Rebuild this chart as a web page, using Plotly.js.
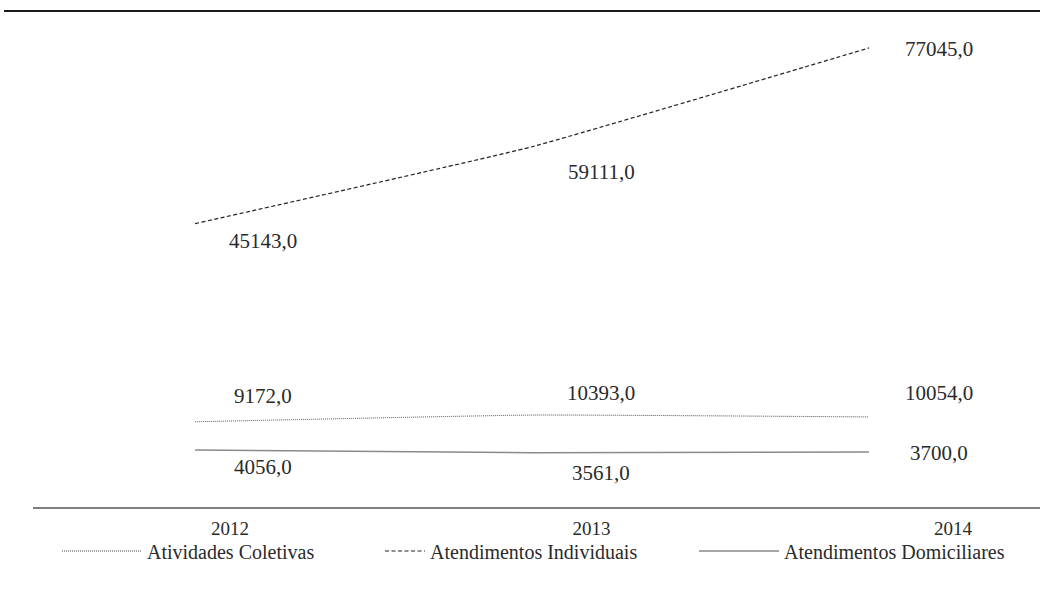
<!DOCTYPE html>
<html>
<head>
<meta charset="utf-8">
<script src="https://cdn.plot.ly/plotly-3.0.1.min.js"></script>
<style>
  html, body { margin: 0; padding: 0; background: #ffffff; }
  #chart { width: 1040px; height: 589px; }
</style>
</head>
<body>
<div id="chart"></div>
<script>
// ---- Data ----
const years = ['2012', '2013', '2014'];
const atividadesColetivas = [9172, 10393, 10054];
const atendimentosIndividuais = [45143, 59111, 77045];
const atendimentosDomiciliares = [4056, 3561, 3700];
const seriesNames = ['Atividades Coletivas', 'Atendimentos Individuais', 'Atendimentos Domiciliares'];

// ---- Styles ----
const FONT = 'Liberation Serif, Times New Roman, serif';
const TEXT = '#2a2a2a';
const W = 1040, H = 589;
const M = {l: 0, r: 0, t: 11, b: 81};
const plotH = H - M.t - M.b;

const seriesStyle = [
  {color: '#444444', width: 1, dash: '1px,1px', legend: 'legend', labelDy: [-26, -22, -24]},
  {color: '#222222', width: 1.2, dash: '4px,2.5px', legend: 'legend2', labelDy: [17, 25, 1]},
  {color: '#8a8a8a', width: 1.5, dash: 'solid', legend: 'legend3', labelDy: [17, 20, 1]}
];
const labelDx = [68, 69, 70];
const seriesValues = [atividadesColetivas, atendimentosIndividuais, atendimentosDomiciliares];

function fmt(v) { return v.toFixed(1).replace('.', ','); }

const traces = seriesValues.map((vals, i) => ({
  type: 'scatter',
  mode: 'lines',
  name: seriesNames[i],
  x: years,
  y: vals,
  xaxis: 'x',
  yaxis: 'y',
  legend: seriesStyle[i].legend,
  line: {color: seriesStyle[i].color, width: seriesStyle[i].width, dash: seriesStyle[i].dash, shape: 'spline', smoothing: 0.35},
  hoverinfo: 'skip'
}));
// hidden carrier for the tick-label axis
traces.push({type: 'scatter', mode: 'markers', x: years, y: years.map(() => null), xaxis: 'x2', yaxis: 'y', showlegend: false, hoverinfo: 'skip'});

const annotations = [];
seriesValues.forEach((vals, i) => {
  vals.forEach((v, j) => {
    annotations.push({
      xref: 'x', yref: 'y', x: j, y: v,   // category index j of `years`
      text: fmt(v), showarrow: false,
      xshift: labelDx[j], yshift: -seriesStyle[i].labelDy[j],
      font: {family: FONT, size: 21, color: TEXT},
      xanchor: 'center', yanchor: 'middle'
    });
  });
});

// line-axis mapping: first category at 195px, last at 869px
const linePx = [195, 869];
const lineScale = (linePx[1] - linePx[0]) / (years.length - 1);
const lineRange = [-linePx[0] / lineScale, (W - linePx[0]) / lineScale];
// tick-label axis mapping
const tickPx = [230, 953];
const tickScale = (tickPx[1] - tickPx[0]) / (years.length - 1);
const tickRange = [-tickPx[0] / tickScale, (W - tickPx[0]) / tickScale];

function legendCfg(px, itemwidth) {
  return {
    x: px / W, y: (508 - 551) / plotH, xanchor: 'left', yanchor: 'middle',
    orientation: 'h', itemwidth: itemwidth, bgcolor: 'rgba(0,0,0,0)', borderwidth: 0,
    font: {family: FONT, size: 20, color: TEXT}, itemclick: false, itemdoubleclick: false
  };
}

const layout = {
  width: W, height: H,
  margin: M,
  paper_bgcolor: '#ffffff', plot_bgcolor: '#ffffff',
  font: {family: FONT, color: TEXT},
  xaxis: {type: 'category', categoryarray: years, range: lineRange, visible: false, fixedrange: true},
  xaxis2: {type: 'category', categoryarray: years, range: tickRange, overlaying: 'x', anchor: 'y', side: 'bottom',
           showgrid: false, zeroline: false, showline: false, ticks: '', ticklabelstandoff: 7,
           tickfont: {family: FONT, size: 19, color: TEXT}, fixedrange: true},
  yaxis: {range: [-6482, 83751], visible: false, fixedrange: true},
  showlegend: true,
  legend: legendCfg(57, 80),
  legend2: legendCfg(380, 40),
  legend3: legendCfg(694, 80),
  annotations: annotations,
  shapes: [
    {type: 'line', xref: 'paper', yref: 'paper', x0: 4 / W, x1: 1, y0: 1, y1: 1, line: {color: '#1a1a1a', width: 2}},
    {type: 'line', xref: 'paper', yref: 'paper', x0: 33 / W, x1: 1, y0: 0, y1: 0, line: {color: '#555555', width: 1.5}}
  ]
};

Plotly.newPlot('chart', traces, layout, {displayModeBar: false, staticPlot: true});
</script>
</body>
</html>
